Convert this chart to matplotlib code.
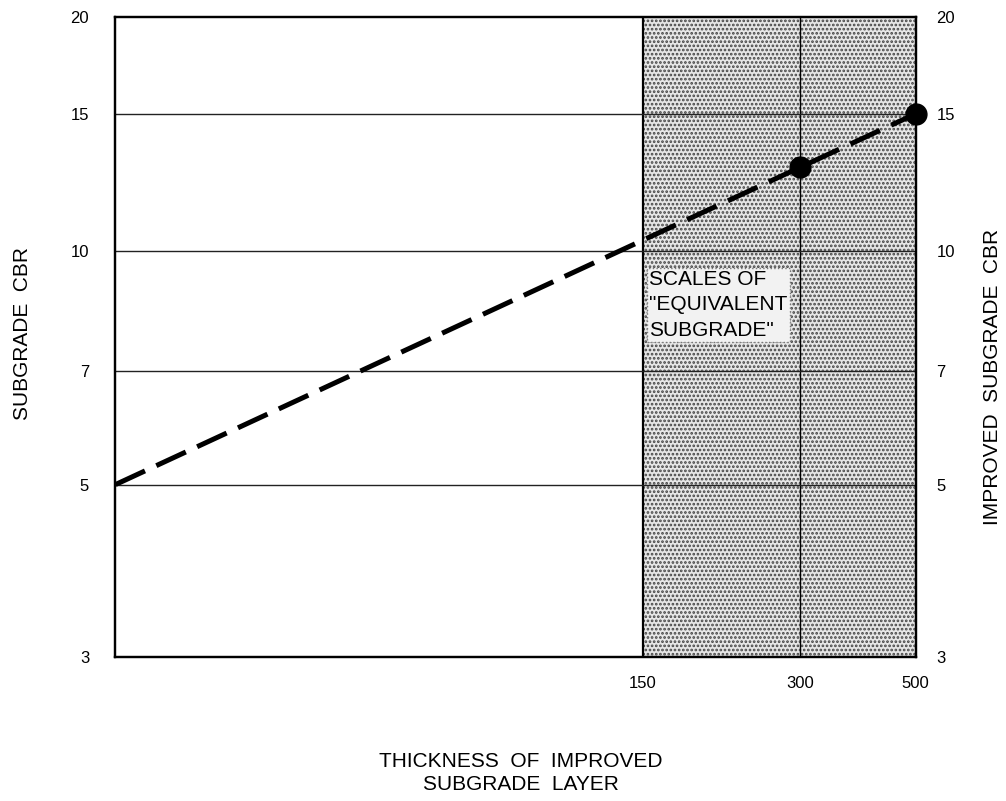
import numpy as np
import matplotlib.pyplot as plt

plt.rcParams['font.family'] = ['Liberation Sans', 'DejaVu Sans']
plt.rcParams['hatch.linewidth'] = 1.3

# data
cbr_ticks = [3, 5, 7, 10, 15, 20]
grid_cbr = [5, 7, 10, 15]
thickness_ticks = [150, 300, 500]
x_left = 14.6                     # left edge of the thickness axis (unlabelled)
line_x = [x_left, 500]            # subgrade CBR 5 -> improved CBR 15
line_cbr = [5, 15]
point_x = [300, 500]
point_cbr = [12.8, 15]

fig = plt.figure(figsize=(10.06, 8.01), dpi=100)
ax = fig.add_axes([0.1148, 0.1798, 0.7955, 0.7994])
ax.set_xscale('log')
ax.set_yscale('log')
ax.set_xlim(x_left, 500)
ax.set_ylim(3, 20)

# stippled "equivalent subgrade" zone
ax.axvspan(150, 500, facecolor='#e6e6e6', edgecolor='#444444', hatch='....', lw=0, zorder=0)
ax.axvline(150, color='black', lw=1.6, zorder=2)
ax.axvline(300, color='black', lw=1.0, zorder=2)
for c in grid_cbr:
    ax.axhline(c, color='#222222', lw=1.0, zorder=2)

ax.plot(line_x, line_cbr, color='black', lw=3.6, dashes=(6.5, 2.5), zorder=3)
ax.plot(point_x, point_cbr, 'o', color='black', ms=15, zorder=4, clip_on=False)

ax.text(0.667, 0.55, 'SCALES OF\n"EQUIVALENT\nSUBGRADE"', transform=ax.transAxes,
        ha='left', va='center', fontsize=15, linespacing=1.42,
        bbox=dict(boxstyle='square,pad=0.1', fc='#f2f2f2', ec='#777777', ls=':', lw=1),
        zorder=5)

ax.set_yticks(cbr_ticks)
ax.set_yticklabels([str(c) for c in cbr_ticks])
ax.yaxis.set_minor_locator(plt.NullLocator())
ax.set_xticks(thickness_ticks)
ax.set_xticklabels([str(t) for t in thickness_ticks])
ax.xaxis.set_minor_locator(plt.NullLocator())
ax.tick_params(axis='y', length=0, pad=19, labelsize=12)
ax.tick_params(axis='x', length=0, pad=14, labelsize=12)

ax2 = ax.twinx()
ax2.set_yscale('log')
ax2.set_ylim(3, 20)
ax2.set_yticks(cbr_ticks)
ax2.set_yticklabels([str(c) for c in cbr_ticks])
ax2.yaxis.set_minor_locator(plt.NullLocator())
ax2.tick_params(axis='y', length=0, pad=15, labelsize=12)

for a in (ax, ax2):
    for s in a.spines.values():
        s.set_linewidth(1.6)
        s.set_color('black')

fig.text(0.022, 0.584, 'SUBGRADE  CBR', rotation=90, ha='center', va='center', fontsize=15)
fig.text(0.987, 0.53, 'IMPROVED  SUBGRADE  CBR', rotation=90, ha='center', va='center', fontsize=15)
fig.text(0.518, 0.035, 'THICKNESS  OF  IMPROVED\nSUBGRADE  LAYER', ha='center', va='center',
         fontsize=15, linespacing=1.3)

fig.savefig('out.png', dpi=100)
